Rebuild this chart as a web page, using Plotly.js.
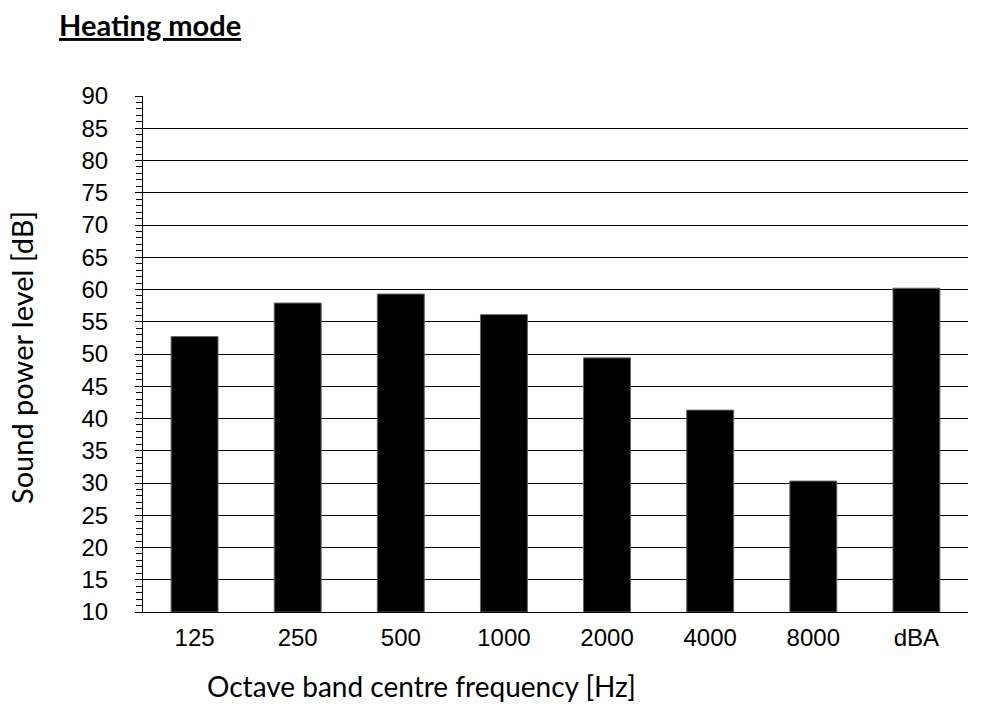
<!DOCTYPE html>
<html>
<head>
<meta charset="utf-8">
<script src="https://cdn.plot.ly/plotly-3.0.1.min.js"></script>
<style>html,body{margin:0;padding:0;background:#fff;}#chart{width:981px;height:704px;}</style>
</head>
<body>
<div id="chart"></div>
<script>
const categories = ["125", "250", "500", "1000", "2000", "4000", "8000", "dBA"];
const soundPower = [52.7, 57.9, 59.3, 56.1, 49.4, 41.3, 30.3, 60.2];
const yTickVals = [10, 15, 20, 25, 30, 35, 40, 45, 50, 55, 60, 65, 70, 75, 80, 85, 90];
const yBase = 10;

const plotL = 143, plotR = 968, plotT = 96, plotB = 612;
const W = 981, H = 704;
const pw = plotR - plotL, ph = plotB - plotT;

const tickFont = {family: "Arial, 'Liberation Sans', sans-serif", size: 24, color: '#000'};
const titleFont = {family: "Lato, Carlito, Calibri, sans-serif", size: 28, color: '#000'};
const headFont = {family: "Lato, Carlito, Calibri, sans-serif", size: 29, color: '#000'};

const trace = {
  type: 'bar',
  x: categories,
  y: soundPower.map(v => v - yBase),
  base: yBase,
  marker: {color: '#000000', line: {color: '#666666', width: 1}},
  width: 0.455,
  hoverinfo: 'x'
};

const layout = {
  width: W, height: H,
  margin: {l: plotL, r: W - plotR, t: plotT, b: H - plotB, pad: 0},
  paper_bgcolor: '#ffffff',
  plot_bgcolor: '#ffffff',
  showlegend: false,
  font: tickFont,
  xaxis: {
    type: 'category',
    showline: true, linecolor: '#000', linewidth: 1,
    showgrid: false, ticks: '', zeroline: false,
    tickfont: tickFont,
    ticklabelstandoff: 4,
    fixedrange: true
  },
  yaxis: {
    range: [10, 90],
    tickvals: yTickVals,
    ticks: 'outside', ticklen: 7, tickcolor: '#000', tickwidth: 1,
    minor: {dtick: 1, ticks: 'outside', ticklen: 6, tickcolor: '#000', tickwidth: 1, showgrid: false},
    showline: true, linecolor: '#000', linewidth: 1,
    showgrid: true, gridcolor: '#000', gridwidth: 1,
    zeroline: false,
    tickfont: tickFont,
    ticklabelstandoff: 22,
    fixedrange: true
  },
  annotations: [
    {
      text: '<b><u>Heating mode</u></b>',
      xref: 'paper', yref: 'paper',
      x: (57 - plotL) / pw, y: (plotB - 25) / ph,
      xanchor: 'left', yanchor: 'middle', showarrow: false,
      font: headFont
    },
    {
      text: 'Octave band centre frequency [Hz]',
      xref: 'paper', yref: 'paper',
      x: (205 - plotL) / pw, y: (plotB - 686) / ph,
      xanchor: 'left', yanchor: 'middle', showarrow: false,
      font: titleFont
    },
    {
      text: 'Sound power level [dB]',
      xref: 'paper', yref: 'paper',
      x: (21 - plotL) / pw, y: (plotB - 358) / ph,
      xanchor: 'center', yanchor: 'middle', showarrow: false, textangle: -90,
      font: headFont
    }
  ]
};

Plotly.newPlot('chart', [trace], layout, {displayModeBar: false, staticPlot: true});
</script>
</body>
</html>
